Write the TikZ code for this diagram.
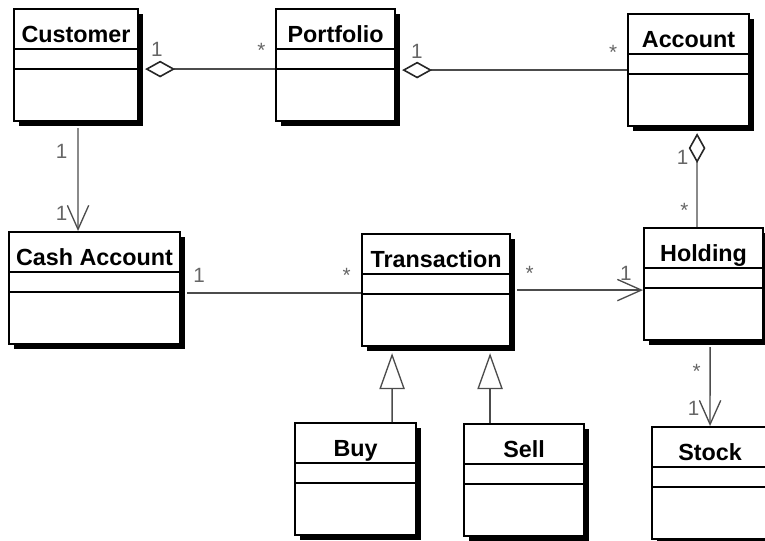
\documentclass[tikz,border=0pt]{standalone}
\usepackage{fontspec}
\setmainfont{Liberation Sans}
\usetikzlibrary{arrows.meta,shadows}

\begin{document}
\begin{tikzpicture}[x=0.75pt,y=-0.75pt,thick,
        class node/.style={draw,line width=1.6pt,fill=white,anchor=north west,inner sep=0pt,
          text height=24.75pt,text depth=59.25pt,font=\bfseries\fontsize{17.5pt}{20pt}\selectfont,
          drop shadow={shadow xshift=4pt,shadow yshift=-4pt,fill=black,opacity=1},
          path picture={
            \draw[line width=1.1pt] ([yshift=-30pt]path picture bounding box.north west) -- ([yshift=-30pt]path picture bounding box.north east);
            \draw[line width=1.1pt] ([yshift=-45pt]path picture bounding box.north west) -- ([yshift=-45pt]path picture bounding box.north east);}},
        mult/.style={inner sep=0pt,text=black!60,font=\fontsize{15.5pt}{18pt}\selectfont},
        aggr/.style={{Diamond[open,length=22.5pt,width=12.5pt,color=black!85,line width=1.2pt]}-,shorten <=4.5pt},
        nav/.style={-{Straight Barb[length=18pt,width=16pt]},shorten <=4.5pt},
        gen/.style={-{Triangle[open,length=27pt,width=19pt]},shorten >=4.5pt}]

        \useasboundingbox (0,0) rectangle (765,540);

        \node[class node,minimum width=93pt] (cust) at (13,8) {Customer};
        \node[class node,minimum width=89.25pt] (port) at (275,8) {Portfolio};
        \node[class node,minimum width=90.75pt] (acct) at (627,13) {Account};
        \node[class node,minimum width=128.25pt] (cash) at (8,231) {Cash Account};
        \node[class node,minimum width=111pt] (trans) at (361,233) {Transaction};
        \node[class node,minimum width=89.25pt] (hold) at (643,227) {Holding};
        \node[class node,minimum width=90.75pt] (buy) at (294,422) {Buy};
        \node[class node,minimum width=90pt] (sell) at (463,423) {Sell};
        \node[class node,minimum width=87pt] (stock) at (651,426) {Stock};

        \path[black!70,line width=1pt,every node/.style={mult}]
        ([yshift=-3pt]cust.east) edge[aggr] node[pos=.13,above=9pt] {1} node[pos=.9,above=8pt] {*} ([yshift=-3pt]port.west)
        ([yshift=-3.75pt]port.east) edge[aggr] node[pos=.09,above=8pt] {1} node[pos=.94,above=7.5pt] {*} (acct.west)
        ([xshift=6.4pt]acct.south) edge[aggr] node[pos=.3,left=6pt] {1} node[pos=.83,left=6pt] {*} ([xshift=-4.9pt]hold.north)
        ([xshift=1.5pt]cust.south) edge[nav] node[pos=.27,left=7.5pt] {1} node[pos=.84,left=7.5pt] {1} ([xshift=-12.4pt]cash.north)
        ([yshift=-3.75pt]cash.east) edge[shorten <=4.5pt] node[pos=.1,above=7.5pt] {1} node[pos=.92,above=7.5pt] {*} ([yshift=-2.25pt]trans.west)
        (trans.east) edge[nav] node[pos=.14,above=7pt] {*} node[pos=.87,above=7pt] {1} ([yshift=-4.5pt]hold.west)
        ([xshift=4.9pt]hold.south) edge[nav] node[pos=.36,left=6.5pt] {*} node[pos=.79,left=7.5pt] {1} (stock.north)
        ([xshift=27.4pt]buy.north) edge[gen] ([xshift=-33pt]trans.south)
        ([xshift=-25.5pt]sell.north) edge[gen] ([xshift=40.5pt]trans.south);
      \end{tikzpicture}
\end{document}
